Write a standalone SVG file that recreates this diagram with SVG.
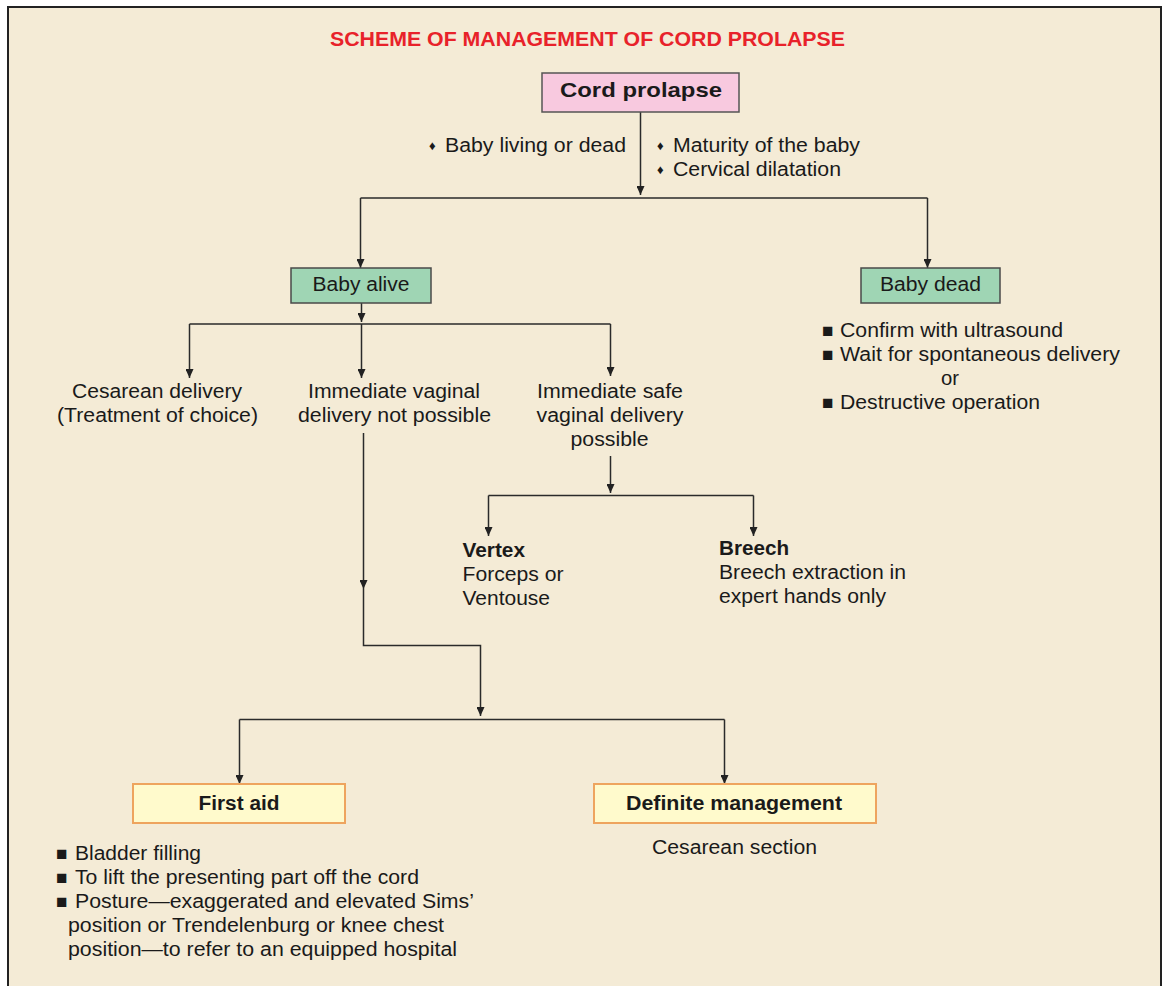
<svg xmlns="http://www.w3.org/2000/svg" width="1166" height="986" viewBox="0 0 1166 986">
<defs>
<marker id="arr" viewBox="0 0 9 8" refX="9" refY="4" markerWidth="9" markerHeight="8" markerUnits="userSpaceOnUse" orient="auto">
<path d="M0 0 L9 4 L0 8 Z" fill="#222"/>
</marker>
<style>
text{font-family:"Liberation Sans",Arial,Helvetica,sans-serif;fill:#1a1a1a;}
.b{font-size:19.5px;}
.bd{font-size:20px;font-weight:bold;}
.c{text-anchor:middle;}
.title{font-size:19.5px;font-weight:bold;fill:#e8222a;text-anchor:middle;}
.sq{font-size:19px;}
.dm{font-size:13px;}
.ln{fill:none;stroke:#2a2a2a;stroke-width:1.5;}
.ar{fill:none;stroke:#2a2a2a;stroke-width:1.5;marker-end:url(#arr);}
.pink{fill:#f8c9df;stroke:#555;stroke-width:1.5;}
.green{fill:#9fd5b4;stroke:#4a4a4a;stroke-width:1.5;}
.yel{fill:#fffacc;stroke:#eea45e;stroke-width:2;}
</style>
</defs>
<rect x="0" y="0" width="1166" height="986" fill="#ffffff"/>
<rect x="8" y="7" width="1153" height="990" fill="#f4ebd6" stroke="#222" stroke-width="2"/>
<text class="title" x="587.5" y="46" textLength="515" lengthAdjust="spacingAndGlyphs">SCHEME OF MANAGEMENT OF CORD PROLAPSE</text>

<g id="connectors">
<path class="ar" d="M640.5 112 V195"/>
<path class="ln" d="M360.5 198 H927.5"/>
<path class="ar" d="M360.5 198 V268"/>
<path class="ar" d="M927.5 198 V268"/>
<path class="ar" d="M361.5 302 V322"/>
<path class="ln" d="M189.5 324 H610.5"/>
<path class="ar" d="M189.5 324 V378"/>
<path class="ar" d="M361.5 324 V378"/>
<path class="ar" d="M610.5 324 V376"/>
<path class="ar" d="M363.5 433 V589"/>
<path class="ln" d="M363.5 589 V645.5 H480.5 V700"/>
<path class="ar" d="M480.5 700 V716"/>
<path class="ln" d="M239.5 719.5 H724.5"/>
<path class="ar" d="M239.5 719.5 V784"/>
<path class="ar" d="M724.5 719.5 V784"/>
<path class="ar" d="M610.5 456 V493"/>
<path class="ln" d="M488.5 495.5 H753.5"/>
<path class="ar" d="M488.5 495.5 V536"/>
<path class="ar" d="M753.5 495.5 V536"/>
</g>

<g id="cord-prolapse">
<rect class="pink" x="542" y="73" width="197" height="39"/>
<text class="bd c" x="641" y="97" style="font-size:21px" textLength="162" lengthAdjust="spacingAndGlyphs">Cord prolapse</text>
</g>

<g id="criteria">
<text class="dm" x="429" y="150">♦</text>
<text class="b" x="445" y="152" textLength="181" lengthAdjust="spacingAndGlyphs">Baby living or dead</text>
<text class="dm" x="657" y="150">♦</text>
<text class="b" x="673" y="152" textLength="187" lengthAdjust="spacingAndGlyphs">Maturity of the baby</text>
<text class="dm" x="657" y="174">♦</text>
<text class="b" x="673" y="176" textLength="168" lengthAdjust="spacingAndGlyphs">Cervical dilatation</text>
</g>

<g id="baby-alive">
<rect class="green" x="291" y="268" width="140" height="35"/>
<text class="b c" x="361" y="291" textLength="97" lengthAdjust="spacingAndGlyphs">Baby alive</text>
</g>

<g id="baby-dead">
<rect class="green" x="861" y="268" width="139" height="35"/>
<text class="b c" x="930.5" y="291" textLength="101" lengthAdjust="spacingAndGlyphs">Baby dead</text>
</g>

<g id="baby-dead-list">
<text class="sq" x="822" y="337">■</text>
<text class="b" x="840" y="337" textLength="223" lengthAdjust="spacingAndGlyphs">Confirm with ultrasound</text>
<text class="sq" x="822" y="361">■</text>
<text class="b" x="840" y="361" textLength="280" lengthAdjust="spacingAndGlyphs">Wait for spontaneous delivery</text>
<text class="b c" x="950" y="385" textLength="18" lengthAdjust="spacingAndGlyphs">or</text>
<text class="sq" x="822" y="409">■</text>
<text class="b" x="840" y="409" textLength="200" lengthAdjust="spacingAndGlyphs">Destructive operation</text>
</g>

<g id="cesarean-delivery">
<text class="b c" x="157" y="398" textLength="170" lengthAdjust="spacingAndGlyphs">Cesarean delivery</text>
<text class="b c" x="157.5" y="422" textLength="201" lengthAdjust="spacingAndGlyphs">(Treatment of choice)</text>
</g>

<g id="vaginal-not-possible">
<text class="b c" x="394" y="398" textLength="172" lengthAdjust="spacingAndGlyphs">Immediate vaginal</text>
<text class="b c" x="394.5" y="422" textLength="193" lengthAdjust="spacingAndGlyphs">delivery not possible</text>
</g>

<g id="vaginal-possible">
<text class="b c" x="610" y="398" textLength="146" lengthAdjust="spacingAndGlyphs">Immediate safe</text>
<text class="b c" x="610" y="422" textLength="147" lengthAdjust="spacingAndGlyphs">vaginal delivery</text>
<text class="b c" x="609.5" y="446" textLength="78" lengthAdjust="spacingAndGlyphs">possible</text>
</g>

<g id="vertex">
<text class="bd" x="462.5" y="557" style="font-size:19.5px" textLength="62.5" lengthAdjust="spacingAndGlyphs">Vertex</text>
<text class="b" x="462.5" y="581" textLength="101" lengthAdjust="spacingAndGlyphs">Forceps or</text>
<text class="b" x="462.5" y="605" textLength="87.5" lengthAdjust="spacingAndGlyphs">Ventouse</text>
</g>

<g id="breech">
<text class="bd" x="719" y="555" style="font-size:19.5px" textLength="70" lengthAdjust="spacingAndGlyphs">Breech</text>
<text class="b" x="719" y="579" textLength="187" lengthAdjust="spacingAndGlyphs">Breech extraction in</text>
<text class="b" x="719" y="603" textLength="167" lengthAdjust="spacingAndGlyphs">expert hands only</text>
</g>

<g id="first-aid">
<rect class="yel" x="133" y="784" width="212" height="39"/>
<text class="bd c" x="239" y="810" textLength="81" lengthAdjust="spacingAndGlyphs">First aid</text>
</g>

<g id="first-aid-list">
<text class="sq" x="56" y="860">■</text>
<text class="b" x="75" y="860" textLength="126" lengthAdjust="spacingAndGlyphs">Bladder filling</text>
<text class="sq" x="56" y="884">■</text>
<text class="b" x="75" y="884" textLength="344" lengthAdjust="spacingAndGlyphs">To lift the presenting part off the cord</text>
<text class="sq" x="56" y="908">■</text>
<text class="b" x="75" y="908" textLength="399" lengthAdjust="spacingAndGlyphs">Posture—exaggerated and elevated Sims’</text>
<text class="b" x="68" y="932" textLength="376" lengthAdjust="spacingAndGlyphs">position or Trendelenburg or knee chest</text>
<text class="b" x="68" y="956" textLength="389" lengthAdjust="spacingAndGlyphs">position—to refer to an equipped hospital</text>
</g>

<g id="definite-management">
<rect class="yel" x="594" y="784" width="282" height="39"/>
<text class="bd c" x="734" y="810" textLength="216" lengthAdjust="spacingAndGlyphs">Definite management</text>
</g>

<g id="cesarean-section">
<text class="b c" x="734.5" y="854" textLength="165" lengthAdjust="spacingAndGlyphs">Cesarean section</text>
</g>
</svg>
